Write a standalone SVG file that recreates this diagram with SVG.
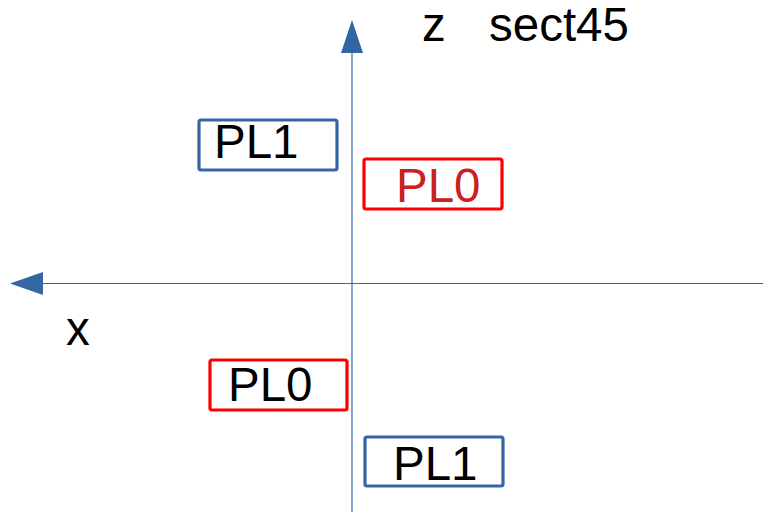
<svg xmlns="http://www.w3.org/2000/svg" width="763" height="518" viewBox="0 0 763 518">
<style>
.t{font-family:"Liberation Sans",Arial,sans-serif;font-size:47.5px;fill:#000}
.axis{stroke:#3465a4;stroke-width:1.2;fill:none}
.bx{fill:#fff;stroke-width:3.2}
.blue{stroke:#3465a4}
.red{stroke:#ff0000}
</style>
<rect width="763" height="518" fill="#fff"/>
<g id="connectors">
<line class="axis" x1="352" y1="512" x2="352" y2="50"/>
<polygon points="352,20 341,53 363,53" fill="#3465a4"/>
<line class="axis" x1="763" y1="283.5" x2="40" y2="283.5"/>
<polygon points="10,283.5 43,272 43,295" fill="#3465a4"/>
</g>
<g id="label-z"><text class="t" x="422" y="41">z</text></g>
<g id="label-sect45"><text class="t" x="489" y="41">sect45</text></g>
<g id="label-x"><text class="t" x="66" y="345">x</text></g>
<g id="pl1-top">
<rect class="bx blue" x="199" y="120" width="138" height="50" rx="2"/>
<text class="t" x="214" y="158">PL1</text>
</g>
<g id="pl0-top">
<rect class="bx red" x="364" y="159" width="138" height="50" rx="2"/>
<text class="t" x="396" y="202" style="fill:#c9211e">PL0</text>
</g>
<g id="pl0-bottom">
<rect class="bx red" x="210" y="360" width="137" height="50" rx="2"/>
<text class="t" x="228" y="401">PL0</text>
</g>
<g id="pl1-bottom">
<rect class="bx blue" x="365" y="437" width="138" height="49" rx="2"/>
<text class="t" x="393" y="480">PL1</text>
</g>
</svg>
